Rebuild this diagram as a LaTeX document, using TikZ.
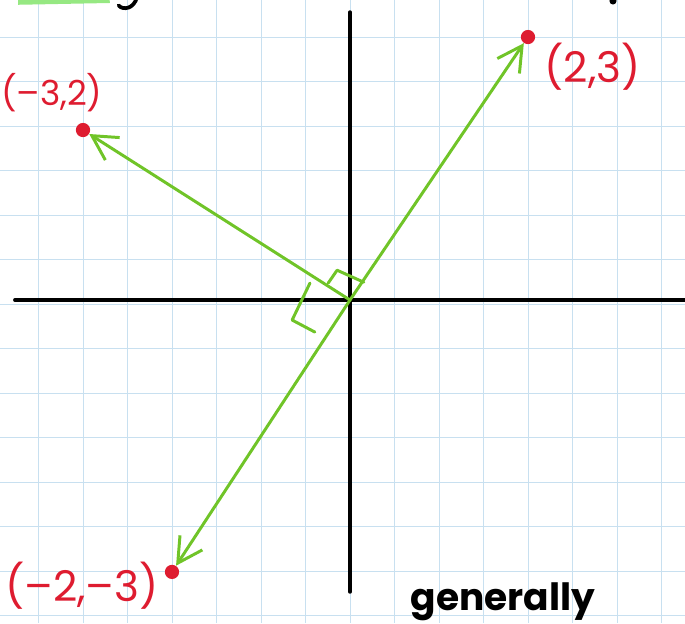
\documentclass[tikz,border=0pt]{standalone}
\usepackage{fontspec}
\newfontfamily\handfont{Poppins}
\usetikzlibrary{arrows.meta,positioning}
\definecolor{gridblue}{RGB}{200,224,240}
\definecolor{vecgreen}{RGB}{112,196,40}
\definecolor{ptred}{RGB}{222,28,48}
\definecolor{hilite}{RGB}{150,232,130}

\begin{document}
\begin{tikzpicture} [
    gridline/.style={draw=gridblue, line width=0.6pt},
    axis/.style={line width=2.3pt, line cap=round},
    vec/.style={draw=vecgreen, line width=1.9pt, line cap=round,
      -{Straight Barb[length=5.5mm,width=6mm]}},
    rmark/.style={draw=vecgreen, line width=1.9pt, line cap=round, line join=round},
    pt/.style={circle, fill=ptred, inner sep=0pt, minimum size=3.2mm},
    lbl/.style={text=ptred, font=\handfont\fontsize{#1}{#1}\selectfont},
    lbl/.default=27,
    note/.style={font=\handfont\bfseries\fontsize{24}{24}\selectfont}
  ]
  \useasboundingbox (-7.865,-7.258) rectangle (7.528,6.742);
  \draw[gridline, yshift=-0.09cm] (-7.865,-7.17) grid (7.528,6.83);
  % axes
  \draw[axis] (0,-6.56) -- (0,6.47);
  \draw[axis] (-7.53,0) -- (7.6,0);
  % bits cut off at the top
  \draw[hilite, line width=6pt] (-7.46,6.74) -- (-5.4,6.78);
  \draw[line width=2.4pt, line cap=round] (-4.79,6.8) .. controls (-4.85,6.55) and (-5.1,6.5) .. (-5.2,6.62);
  \fill (5.91,6.72) circle (0.08);
  % vectors
  \coordinate (o) at (0,0);
  \node[pt] (p23) at (4.0,5.91) {};
  \node[pt] (pm32) at (-6.0,3.82) {};
  \node[pt] (pm2m3) at (-4.0,-6.11) {};
  \draw[vec] (o) -- (p23);
  \draw[vec] (o) -- (pm32);
  \draw[vec] (o) -- (pm2m3);
  % right angles
  \draw[rmark] (-0.49,0.38) -- (-0.29,0.67) -- (0.31,0.40);
  \draw[rmark] (-0.90,0.38) -- (-1.30,-0.45) -- (-0.79,-0.72);
  % labels
  \node[lbl] (l23) at (5.45,5.25) {(2,3)};
  \node[lbl=22] (lm32) at (-6.70,4.67) {(–3,2)};
  \node[lbl] (lm2m3) at (-6.02,-6.43) {(–2,–3)};
  \node[note, anchor=base west] (gen) at (1.24,-6.98) {generally};
\end{tikzpicture}
\end{document}
